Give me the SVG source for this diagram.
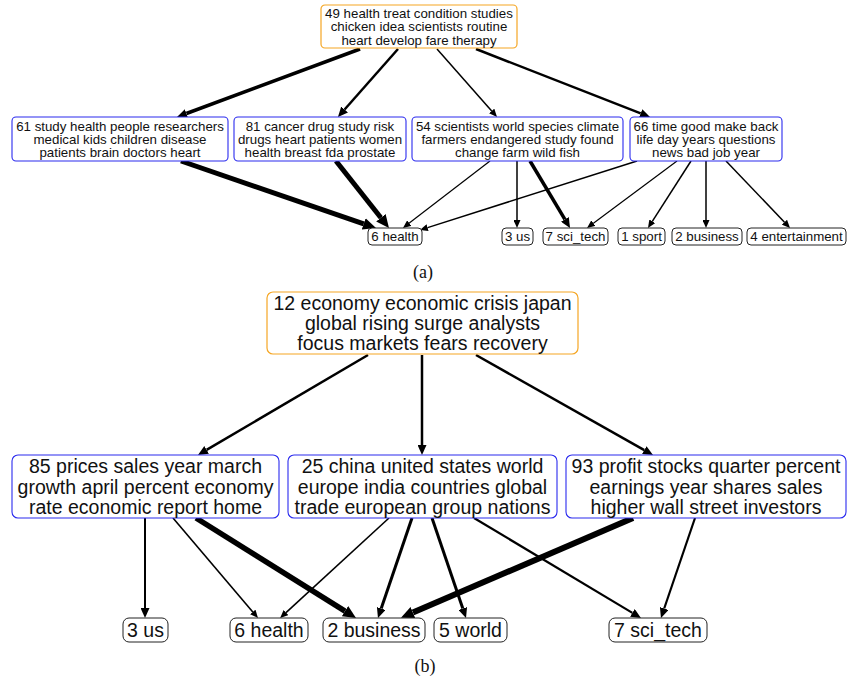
<svg xmlns="http://www.w3.org/2000/svg" width="847" height="681" viewBox="0 0 847 681">
<style>
  .bg{fill:#ffffff}
  .root{fill:#ffffff;stroke:#f5a623;stroke-width:1.2}
  .mid{fill:#ffffff;stroke:#2a2aee;stroke-width:1.1}
  .leaf{fill:#ffffff;stroke:#222222;stroke-width:1}
  .ta{font-family:"Liberation Sans",Arial,Helvetica,sans-serif;font-size:13.3px;fill:#111;text-anchor:middle}
  .tb{font-family:"Liberation Sans",Arial,Helvetica,sans-serif;font-size:19.5px;fill:#111;text-anchor:middle}
  .cap{font-family:"Liberation Serif","Times New Roman",serif;font-size:18px;fill:#111;text-anchor:middle}
  .e{stroke:#000;fill:none;stroke-linecap:butt}
  .s{marker-end:url(#aS)}
  .m{marker-end:url(#aM)}
  .l{marker-end:url(#aL)}
</style>
<defs>
  <marker id="aS" markerUnits="userSpaceOnUse" markerWidth="8" markerHeight="7" viewBox="0 0 8 7" refX="0" refY="3.5" orient="auto">
    <path d="M0,0 L8,3.5 L0,7 z" fill="#000"/>
  </marker>
  <marker id="aM" markerUnits="userSpaceOnUse" markerWidth="10" markerHeight="9" viewBox="0 0 10 9" refX="0" refY="4.5" orient="auto">
    <path d="M0,0 L10,4.5 L0,9 z" fill="#000"/>
  </marker>
  <marker id="aL" markerUnits="userSpaceOnUse" markerWidth="13" markerHeight="12" viewBox="0 0 13 12" refX="0" refY="6" orient="auto">
    <path d="M0,0 L13,6 L0,12 z" fill="#000"/>
  </marker>
</defs>
<rect class="bg" x="0" y="0" width="847" height="681"/>

<g id="edges">
  <!-- (a) -->
  <line class="e m" x1="360" y1="49" x2="186.4" y2="113.5" stroke-width="3.5"/>
  <line class="e m" x1="398" y1="49" x2="344.6" y2="109.5" stroke-width="2.5"/>
  <line class="e s" x1="437" y1="49" x2="491.7" y2="111" stroke-width="1.5"/>
  <line class="e m" x1="476" y1="49" x2="640.7" y2="113.4" stroke-width="2.5"/>
  <line class="e l" x1="181" y1="161" x2="363.7" y2="223.8" stroke-width="5"/>
  <line class="e l" x1="336" y1="161" x2="380.9" y2="217.8" stroke-width="5"/>
  <line class="e s" x1="490" y1="161" x2="409.3" y2="223.1" stroke-width="1.2"/>
  <line class="e s" x1="637" y1="161" x2="427.6" y2="227.6" stroke-width="1.5"/>
  <line class="e s" x1="517" y1="161" x2="517" y2="220" stroke-width="1.5"/>
  <line class="e m" x1="530" y1="161" x2="564.9" y2="219.4" stroke-width="3.5"/>
  <line class="e s" x1="677" y1="161" x2="593.4" y2="223.2" stroke-width="1.2"/>
  <line class="e s" x1="691" y1="161" x2="652.3" y2="221.3" stroke-width="1.5"/>
  <line class="e s" x1="706" y1="161" x2="706" y2="220" stroke-width="1.5"/>
  <line class="e s" x1="726" y1="161" x2="784.5" y2="222.2" stroke-width="1.5"/>
  <!-- (b) -->
  <line class="e m" x1="368" y1="355" x2="206.6" y2="449.9" stroke-width="2.5"/>
  <line class="e m" x1="422" y1="355" x2="422" y2="445" stroke-width="2.5"/>
  <line class="e m" x1="476" y1="355" x2="644.3" y2="450.1" stroke-width="2.5"/>
  <line class="e m" x1="145" y1="518" x2="145" y2="608" stroke-width="2"/>
  <line class="e s" x1="173" y1="518" x2="252.8" y2="611.9" stroke-width="1.6"/>
  <line class="e l" x1="196" y1="518" x2="345" y2="611.1" stroke-width="5.5"/>
  <line class="e s" x1="389" y1="518" x2="286" y2="612.6" stroke-width="1.6"/>
  <line class="e m" x1="412" y1="518" x2="381.2" y2="608.5" stroke-width="3"/>
  <line class="e m" x1="432" y1="518" x2="462.8" y2="608.5" stroke-width="3"/>
  <line class="e m" x1="474" y1="518" x2="632.4" y2="612.9" stroke-width="2.2"/>
  <line class="e l" x1="633" y1="518" x2="412.9" y2="612.5" stroke-width="6"/>
  <line class="e m" x1="695" y1="518" x2="664.2" y2="608.5" stroke-width="2.2"/>
</g>

<!-- (a) nodes -->
<g id="a49">
  <rect class="root" x="321" y="5" width="196" height="43" rx="4"/>
  <text class="ta" x="419" y="18">49 health treat condition studies</text>
  <text class="ta" x="419" y="31.3">chicken idea scientists routine</text>
  <text class="ta" x="419" y="44.6">heart develop fare therapy</text>
</g>
<g id="a61">
  <rect class="mid" x="12" y="117" width="216" height="44" rx="4"/>
  <text class="ta" x="120" y="130.5">61 study health people researchers</text>
  <text class="ta" x="120" y="143.8">medical kids children disease</text>
  <text class="ta" x="120" y="157.1">patients brain doctors heart</text>
</g>
<g id="a81">
  <rect class="mid" x="234" y="117" width="172" height="44" rx="4"/>
  <text class="ta" x="320" y="130.5">81 cancer drug study risk</text>
  <text class="ta" x="320" y="143.8">drugs heart patients women</text>
  <text class="ta" x="320" y="157.1">health breast fda prostate</text>
</g>
<g id="a54">
  <rect class="mid" x="412" y="117" width="211" height="44" rx="4"/>
  <text class="ta" x="517.5" y="130.5">54 scientists world species climate</text>
  <text class="ta" x="517.5" y="143.8">farmers endangered study found</text>
  <text class="ta" x="517.5" y="157.1">change farm wild fish</text>
</g>
<g id="a66">
  <rect class="mid" x="630" y="117" width="152" height="44" rx="4"/>
  <text class="ta" x="706" y="130.5">66 time good make back</text>
  <text class="ta" x="706" y="143.8">life day years questions</text>
  <text class="ta" x="706" y="157.1">news bad job year</text>
</g>
<g id="a6health">
  <rect class="leaf" x="368" y="228" width="54" height="17" rx="4"/>
  <text class="ta" x="395" y="241.3">6 health</text>
</g>
<g id="a3us">
  <rect class="leaf" x="502" y="228" width="31" height="17" rx="4"/>
  <text class="ta" x="517.5" y="241.3">3 us</text>
</g>
<g id="a7scitech">
  <rect class="leaf" x="543" y="228" width="65" height="17" rx="4"/>
  <text class="ta" x="575.5" y="241.3">7 sci_tech</text>
</g>
<g id="a1sport">
  <rect class="leaf" x="618" y="228" width="47" height="17" rx="4"/>
  <text class="ta" x="641.5" y="241.3">1 sport</text>
</g>
<g id="a2business">
  <rect class="leaf" x="672" y="228" width="70" height="17" rx="4"/>
  <text class="ta" x="707" y="241.3">2 business</text>
</g>
<g id="a4entertainment">
  <rect class="leaf" x="747" y="228" width="99" height="17" rx="4"/>
  <text class="ta" x="796.5" y="241.3">4 entertainment</text>
</g>
<text class="cap" x="423" y="278">(a)</text>

<!-- (b) nodes -->
<g id="b12">
  <rect class="root" x="267" y="292" width="311" height="62" rx="6"/>
  <text class="tb" x="422.5" y="309.7">12 economy economic crisis japan</text>
  <text class="tb" x="422.5" y="330">global rising surge analysts</text>
  <text class="tb" x="422.5" y="350.3">focus markets fears recovery</text>
</g>
<g id="b85">
  <rect class="mid" x="12" y="455" width="267" height="63" rx="6"/>
  <text class="tb" x="145.5" y="473.2">85 prices sales year march</text>
  <text class="tb" x="145.5" y="493.5">growth april percent economy</text>
  <text class="tb" x="145.5" y="513.8">rate economic report home</text>
</g>
<g id="b25">
  <rect class="mid" x="288" y="455" width="269" height="63" rx="6"/>
  <text class="tb" x="422.5" y="473.2">25 china united states world</text>
  <text class="tb" x="422.5" y="493.5">europe india countries global</text>
  <text class="tb" x="422.5" y="513.8">trade european group nations</text>
</g>
<g id="b93">
  <rect class="mid" x="566" y="455" width="280" height="63" rx="6"/>
  <text class="tb" x="706" y="473.2">93 profit stocks quarter percent</text>
  <text class="tb" x="706" y="493.5">earnings year shares sales</text>
  <text class="tb" x="706" y="513.8">higher wall street investors</text>
</g>
<g id="b3us">
  <rect class="leaf" x="123" y="618" width="45" height="24" rx="6"/>
  <text class="tb" x="145.5" y="637">3 us</text>
</g>
<g id="b6health">
  <rect class="leaf" x="230" y="618" width="78" height="24" rx="6"/>
  <text class="tb" x="269" y="637">6 health</text>
</g>
<g id="b2business">
  <rect class="leaf" x="323" y="618" width="102" height="24" rx="6"/>
  <text class="tb" x="374" y="637">2 business</text>
</g>
<g id="b5world">
  <rect class="leaf" x="434" y="618" width="73" height="24" rx="6"/>
  <text class="tb" x="470.5" y="637">5 world</text>
</g>
<g id="b7scitech">
  <rect class="leaf" x="609" y="618" width="98" height="24" rx="6"/>
  <text class="tb" x="658" y="637">7 sci_tech</text>
</g>
<text class="cap" x="425" y="672">(b)</text>
</svg>
